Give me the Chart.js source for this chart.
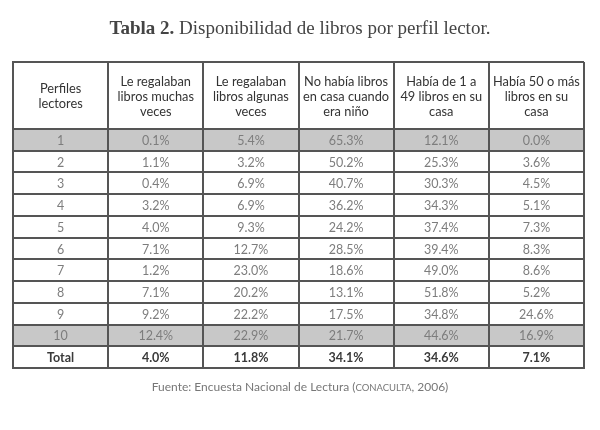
<!DOCTYPE html>
<html>
<head>
<meta charset="utf-8">
<script src="https://cdn.jsdelivr.net/npm/chart.js@4/dist/chart.umd.min.js"></script>
<style>
  body { margin: 0; background: #fff; }
</style>
</head>
<body>
<canvas id="tabla" width="600" height="430"></canvas>
<script>
// Datos de la tabla (porcentajes por perfil lector)
const perfiles = ['1', '2', '3', '4', '5', '6', '7', '8', '9', '10'];
const muchasVeces = [0.1, 1.1, 0.4, 3.2, 4.0, 7.1, 1.2, 7.1, 9.2, 12.4];
const algunasVeces = [5.4, 3.2, 6.9, 6.9, 9.3, 12.7, 23.0, 20.2, 22.2, 22.9];
const sinLibros = [65.3, 50.2, 40.7, 36.2, 24.2, 28.5, 18.6, 13.1, 17.5, 21.7];
const de1a49 = [12.1, 25.3, 30.3, 34.3, 37.4, 39.4, 49.0, 51.8, 34.8, 44.6];
const masDe50 = [0.0, 3.6, 4.5, 5.1, 7.3, 8.3, 8.6, 5.2, 24.6, 16.9];
const totales = [4.0, 11.8, 34.1, 34.6, 7.1];
const filasSombreadas = ['1', '10'];

const encabezados = [
  ['Perfiles', 'lectores'],
  ['Le regalaban', 'libros muchas', 'veces'],
  ['Le regalaban', 'libros algunas', 'veces'],
  ['No había libros', 'en casa cuando', 'era niño'],
  ['Había de 1 a', '49 libros en su', 'casa'],
  ['Había 50 o más', 'libros en su', 'casa']
];

const titulo = ['Tabla 2.', ' Disponibilidad de libros por perfil lector.'];
const fuente = ['Fuente: Encuesta Nacional de Lectura (', 'conaculta', ', 2006)'];

const ALTO_ENCABEZADO = 3.08; // en unidades de fila
const filas = perfiles.concat(['Total']);
const columnas = [
  filas,
  muchasVeces.concat([totales[0]]),
  algunasVeces.concat([totales[1]]),
  sinLibros.concat([totales[2]]),
  de1a49.concat([totales[3]]),
  masDe50.concat([totales[4]])
];

const fmt = v => typeof v === 'number' ? v.toFixed(1) + '%' : v;

const datasets = columnas.map((col, k) => ({
  label: encabezados[k].join(' '),
  data: col.map((v, i) => ({ x: k + 0.5, y: i + 0.5, texto: fmt(v) })),
  pointRadius: 0,
  pointHoverRadius: 0
}));

const LINEA = '#555';
const SANS = 'Lato, "Open Sans", sans-serif';
const SERIF = '"Liberation Serif", "DejaVu Serif", serif';

// Plugin que dibuja fondo, celdas y textos
const tablaPlugin = {
  id: 'tabla',
  beforeDraw(chart) {
    const { ctx, chartArea, scales: { y } } = chart;
    ctx.save();
    ctx.fillStyle = '#fff';
    ctx.fillRect(0, 0, chart.width, chart.height);
    ctx.fillStyle = '#c8c8c8';
    filas.forEach((f, i) => {
      if (filasSombreadas.includes(f)) {
        const top = y.getPixelForValue(i);
        const bottom = y.getPixelForValue(i + 1);
        ctx.fillRect(chartArea.left, top, chartArea.right - chartArea.left, bottom - top);
      }
    });
    ctx.restore();
  },
  afterDatasetsDraw(chart) {
    const { ctx, scales: { x, y } } = chart;
    ctx.save();
    ctx.textAlign = 'center';
    ctx.textBaseline = 'middle';

    // encabezados
    ctx.fillStyle = '#333';
    ctx.font = '12.8px ' + SANS;
    const yc = y.getPixelForValue(-ALTO_ENCABEZADO / 2);
    encabezados.forEach((lineas, k) => {
      const xc = x.getPixelForValue(k + 0.5);
      lineas.forEach((t, j) => {
        ctx.fillText(t, xc, yc + 1 + (j - (lineas.length - 1) / 2) * 15);
      });
    });

    // celdas
    chart.data.datasets.forEach((ds, k) => {
      const meta = chart.getDatasetMeta(k);
      meta.data.forEach((pt, i) => {
        const esTotal = filas[i] === 'Total';
        ctx.fillStyle = esTotal ? '#3a3a3a' : '#7d7d7d';
        ctx.font = (esTotal ? 'bold 12.5px ' : '12.5px ') + SANS;
        ctx.fillText(ds.data[i].texto, pt.x, pt.y + 1);
      });
    });
    ctx.restore();
  },
  afterDraw(chart) {
    const { ctx } = chart;
    ctx.save();
    ctx.textBaseline = 'alphabetic';
    ctx.textAlign = 'left';

    // título
    ctx.fillStyle = '#444';
    ctx.font = 'bold 19px ' + SERIF;
    const w1 = ctx.measureText(titulo[0]).width;
    ctx.font = '19px ' + SERIF;
    const w2 = ctx.measureText(titulo[1]).width;
    const xt = 300 - (w1 + w2) / 2;
    ctx.font = 'bold 19px ' + SERIF;
    ctx.fillText(titulo[0], xt, 34);
    ctx.font = '19px ' + SERIF;
    ctx.fillText(titulo[1], xt + w1, 34);

    // fuente
    ctx.fillStyle = '#777';
    const partes = [
      { t: fuente[0], f: '12px ' + SANS },
      { t: fuente[1].toUpperCase(), f: '9.5px ' + SANS },
      { t: fuente[2], f: '12px ' + SANS }
    ];
    let total = 0;
    partes.forEach(p => { ctx.font = p.f; p.w = ctx.measureText(p.t).width; total += p.w; });
    let xf = 300 - total / 2;
    partes.forEach(p => { ctx.font = p.f; ctx.fillText(p.t, xf, 391); xf += p.w; });
    ctx.restore();
  }
};

const rejilla = { color: LINEA, lineWidth: 2, drawTicks: false };
const borde = { display: true, color: LINEA, width: 2 };

new Chart(document.getElementById('tabla'), {
  type: 'scatter',
  data: { datasets },
  options: {
    responsive: false,
    animation: false,
    devicePixelRatio: 1,
    layout: { padding: { left: 13, right: 16, top: 62, bottom: 62 } },
    plugins: {
      legend: { display: false },
      tooltip: { enabled: false },
      title: { display: false }
    },
    scales: {
      x: {
        type: 'linear',
        min: 0,
        max: columnas.length,
        ticks: { display: false, stepSize: 1 },
        grid: rejilla,
        border: borde
      },
      y: {
        type: 'linear',
        reverse: true,
        min: -ALTO_ENCABEZADO,
        max: filas.length,
        afterBuildTicks: scale => {
          scale.ticks = [-ALTO_ENCABEZADO].concat(filas.map((f, i) => i), [filas.length])
            .map(v => ({ value: v }));
        },
        ticks: { display: false },
        grid: rejilla,
        border: borde
      }
    }
  },
  plugins: [tablaPlugin]
});
</script>
</body>
</html>
